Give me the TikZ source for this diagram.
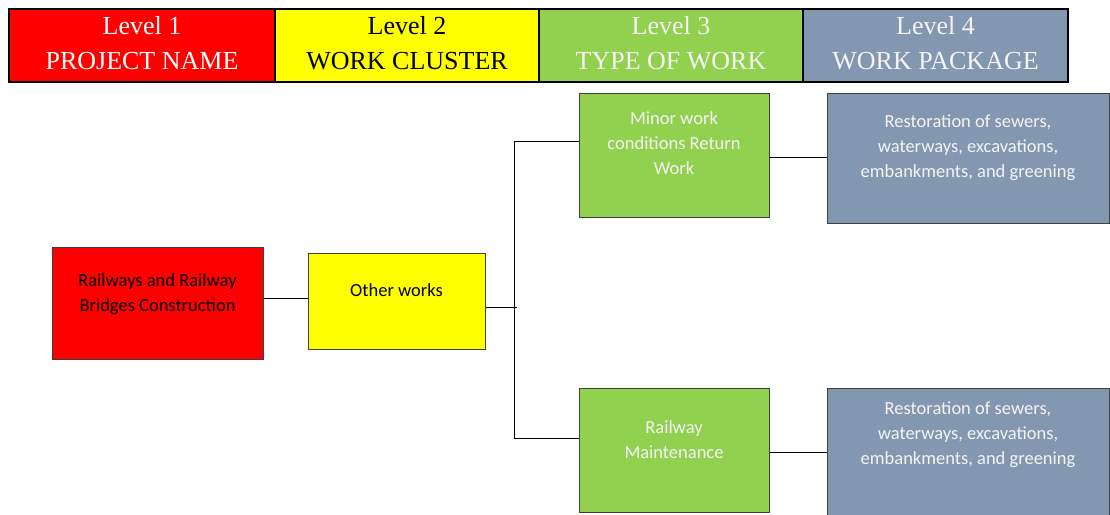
\documentclass[tikz,border=0pt]{standalone}
\usepackage{fontspec}
\setmainfont{Liberation Serif}
\newfontfamily\boxfont{Carlito}
\definecolor{lvlred}{HTML}{FF0000}
\definecolor{lvlyellow}{HTML}{FFFF00}
\definecolor{lvlgreen}{HTML}{92D050}
\definecolor{lvlgrey}{HTML}{8497B0}
\definecolor{boxedge}{HTML}{3F3F3F}
\definecolor{paletext}{HTML}{F4F4F4}

\begin{document}
\begin{tikzpicture}[x=1pt,y=-1pt,
  header/.style={draw=black, line width=2pt, anchor=north west, inner sep=0pt,
    minimum height=73pt},
  htext/.style={align=center, inner sep=0pt, font=\fontsize{26}{35}\selectfont},
  wbox/.style={draw=boxedge, line width=1pt, anchor=north west, inner sep=0pt},
  wtext/.style={anchor=north, align=center, inner sep=0pt,
    font=\boxfont\fontsize{18.5}{25}\selectfont},
  link/.style={draw=black, line width=1pt}]

\useasboundingbox[fill=white] (0,0) rectangle (1110,514);

% level header row
\node[header, fill=lvlred, minimum width=266pt] (h1) at (8,8) {};
\node[header, fill=lvlyellow, minimum width=264pt] (h2) at (274,8) {};
\node[header, fill=lvlgreen, minimum width=264pt] (h3) at (538,8) {};
\node[header, fill=lvlgrey, minimum width=265pt] (h4) at (802,8) {};
\node[htext, text=white] (h1txt) at ([yshift=2pt]h1.center) {Level 1\\PROJECT NAME};
\node[htext, text=black] (h2txt) at ([yshift=2pt]h2.center) {Level 2\\WORK CLUSTER};
\node[htext, text=paletext] (h3txt) at ([yshift=2pt]h3.center) {Level 3\\TYPE OF WORK};
\node[htext, text=paletext] (h4txt) at ([yshift=2pt]h4.center) {Level 4\\WORK PACKAGE};

% breakdown boxes
\node[wbox, fill=lvlred, minimum width=211pt, minimum height=112pt] (proj) at (52,247) {};
\node[wbox, fill=lvlyellow, minimum width=177pt, minimum height=96pt] (clus) at (308,253) {};
\node[wbox, fill=lvlgreen, minimum width=190pt, minimum height=124pt] (minor) at (579,93) {};
\node[wbox, fill=lvlgrey, minimum width=282pt, minimum height=130pt] (wpa) at (827,93) {};
\node[wbox, fill=lvlgreen, minimum width=190pt, minimum height=124pt] (maint) at (579,388) {};
\node[wbox, fill=lvlgrey, minimum width=282pt, minimum height=132pt] (wpb) at (827,388) {};

% box labels
\node[wtext, text=black] (projtxt) at (157.5,273) {Railways and Railway\\Bridges Construction};
\node[wtext, text=black] (clustxt) at (396.5,283) {Other works};
\node[wtext, text=paletext] (minortxt) at (674,111) {Minor work\\conditions Return\\Work};
\node[wtext, text=paletext] (wpatxt) at (968,115) {Restoration of sewers,\\waterways, excavations,\\embankments, and greening};
\node[wtext, text=paletext] (mainttxt) at (674,420) {Railway\\Maintenance};
\node[wtext, text=paletext] (wpbtxt) at (968,402) {Restoration of sewers,\\waterways, excavations,\\embankments, and greening};

% bus coordinates
\coordinate (bustop) at (514,141);
\coordinate (busbot) at (514,438);
\coordinate (bustap) at (517,307);

% connectors
\draw[link] ([yshift=5pt]proj.east) -- ([yshift=5pt]proj.east -| clus.west);
\draw[link] (clus.east |- bustap) -- (bustap);
\draw[link] (bustop) -- (busbot);
\draw[link] (bustop) -- (bustop -| minor.west);
\draw[link] (busbot) -- (busbot -| maint.west);
\draw[link] ([yshift=-2pt]minor.east) -- ([yshift=-2pt]minor.east -| wpa.west);
\draw[link] ([yshift=-2pt]maint.east) -- ([yshift=-2pt]maint.east -| wpb.west);
\end{tikzpicture}
\end{document}
